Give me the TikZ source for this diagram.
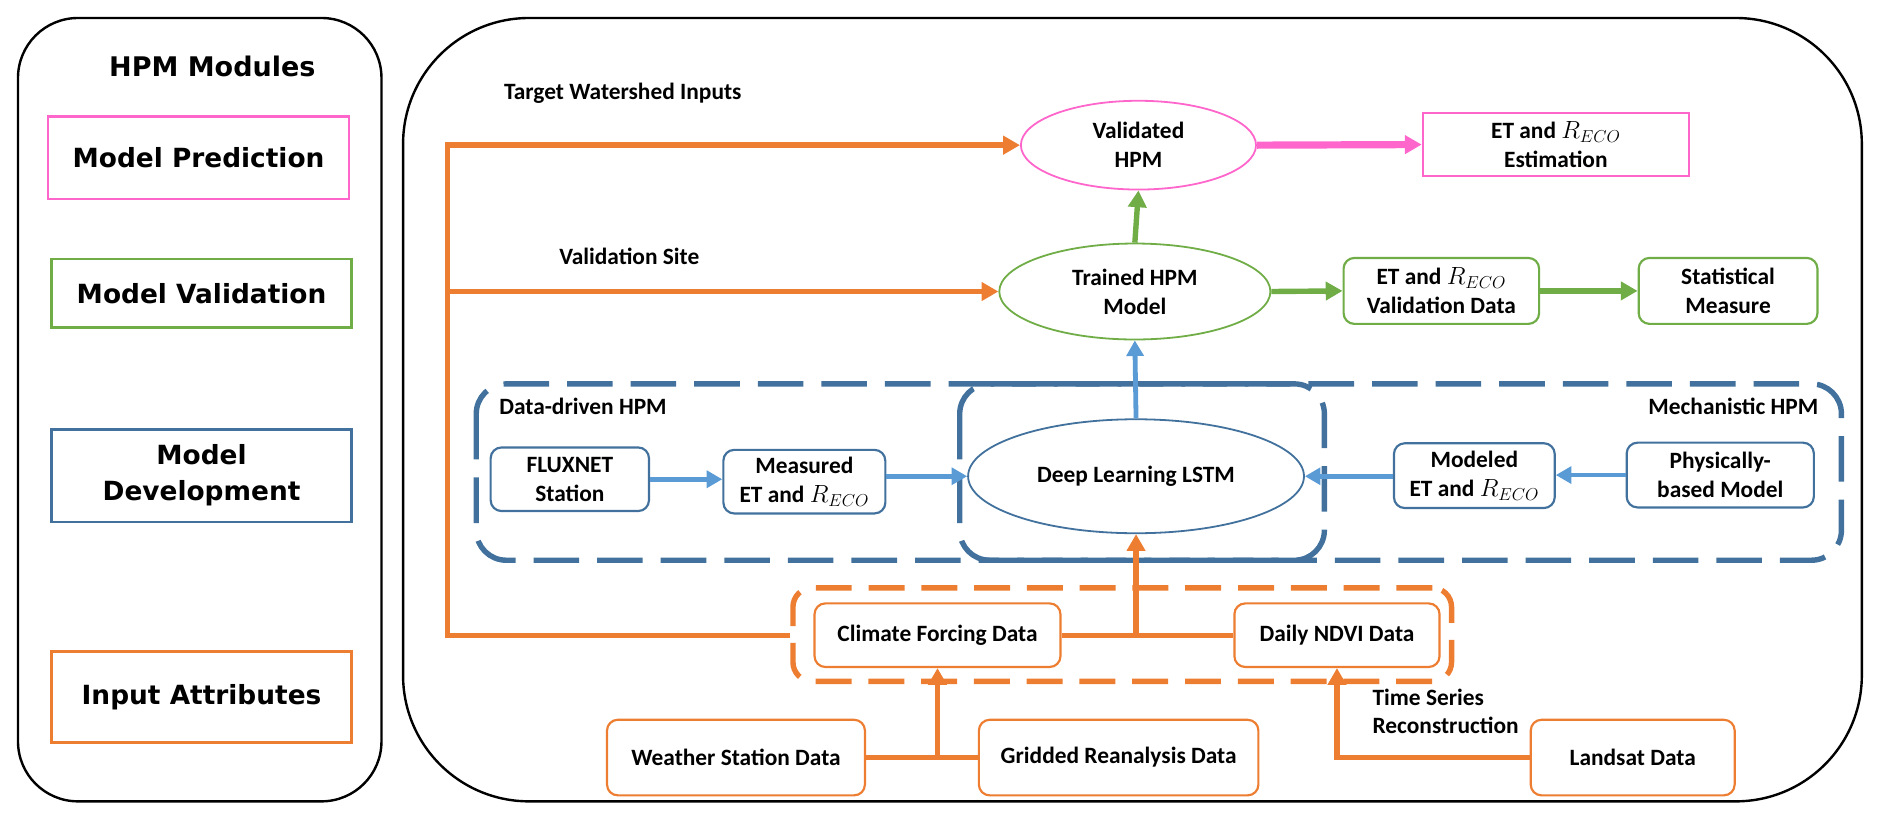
\documentclass[tikz,border=0pt]{standalone}
\usepackage{fontspec}
\setmainfont{Carlito}
\newfontfamily\lpfont{DejaVu Sans}
\usetikzlibrary{arrows.meta,shapes.geometric}
\definecolor{cpink}{HTML}{FF66CC}
\definecolor{cgreen}{HTML}{70AD47}
\definecolor{cblue}{HTML}{41719C}
\definecolor{clblue}{HTML}{5B9BD5}
\definecolor{corange}{HTML}{ED7D31}
\tikzset{
  every node/.style={font=\fontsize{19.5}{24}\selectfont\bfseries, align=center, inner sep=0pt},
  panel/.style={draw=black, line width=2pt},
  lbox/.style={draw, line width=2pt, minimum width=250pt, font=\lpfont\fontsize{22}{30}\selectfont\bfseries},
  rbox/.style={draw, line width=1.8pt, rounded corners=9pt},
  ell/.style={draw, ellipse, line width=1.5pt},
  dbox/.style={line width=4.5pt, rounded corners=25pt, dash pattern=on 38pt off 15pt},
  tip/.style={-{Triangle[length=14pt,width=15pt]}},
  oline/.style={draw=corange, line width=4.5pt, line join=miter},
  oarrow/.style={oline, tip},
  garrow/.style={draw=cgreen, line width=4.5pt, tip},
  parrow/.style={draw=cpink, line width=6pt, tip},
  barrow/.style={draw=clblue, line width=4pt, -{Triangle[length=13pt,width=14pt]}},
  lbl/.style={anchor=west}
}
\begin{document}
\begin{tikzpicture}[x=1pt,y=-1pt]
\useasboundingbox (0,0) rectangle (1568,688);

% left panel
\node[panel, rounded corners=50pt, minimum width=303pt, minimum height=653pt] (lp) at (166.5,341.5) {};
\node[font=\lpfont\fontsize{22.5}{27}\selectfont\bfseries] (title) at (177,55) {HPM Modules};
\node[lbox, draw=cpink, minimum width=251pt, minimum height=69pt] (mp) at (165.5,131.5) {Model Prediction};
\node[lbox, draw=cgreen, minimum height=57pt] (mv) at (168,244.5) {Model Validation};
\node[lbox, draw=cblue, minimum height=77pt] (md) at (168,396.5) {Model\\Development};
\node[lbox, draw=corange, minimum height=76pt] (ia) at (168,581) {Input Attributes};

% main panel
\node[panel, rounded corners=105pt, minimum width=1216pt, minimum height=653pt] (mainp) at (944,341.5) {};

% dashed group boxes
\draw[dbox, draw=cblue] (397,320) rectangle (1104,467);
\draw[dbox, draw=cblue] (800,320) rectangle (1535,467);
\node[draw=corange, line width=4.5pt, rounded corners=16pt, dash pattern=on 30pt off 14pt, minimum width=549pt, minimum height=78pt] (odash) at (935.5,529) {};

% labels
\node[lbl] (twi) at (420,78) {Target Watershed Inputs};
\node[lbl] (vs) at (466,214) {Validation Site};
\node[lbl] (ddh) at (416,339) {Data-driven HPM};
\node[anchor=east] (mech) at (1516,339) {Mechanistic HPM};
\node[anchor=west, align=left] (tsr) at (1144,593) {Time Series\\Reconstruction};

% ellipses
\node[ell, draw=cpink, minimum width=196pt, minimum height=74pt] (vhpm) at (949,121) {Validated\\HPM};
\node[ell, draw=cgreen, minimum width=226pt, minimum height=80pt] (thpm) at (946,243) {Trained HPM\\Model};
\node[ell, draw=cblue, minimum width=280pt, minimum height=95pt] (lstm) at (947,397) {Deep Learning LSTM};

% boxes
\node[draw=cpink, line width=1.8pt, minimum width=222pt, minimum height=53pt] (est) at (1297,120.5) {ET and $R_{ECO}$\\Estimation};
\node[rbox, draw=cgreen, minimum width=163pt, minimum height=55pt] (vdata) at (1201.5,242.5) {ET and $R_{ECO}$\\Validation Data};
\node[rbox, draw=cgreen, minimum width=149pt, minimum height=55pt] (stat) at (1440.5,242.5) {Statistical\\Measure};
\node[rbox, draw=cblue, minimum width=132pt, minimum height=53pt] (flux) at (475,399.5) {FLUXNET\\Station};
\node[rbox, draw=cblue, minimum width=135pt, minimum height=53pt] (meas) at (670.5,401.5) {Measured\\ET and $R_{ECO}$};
\node[rbox, draw=cblue, minimum width=134pt, minimum height=54pt] (modl) at (1229,396.5) {Modeled\\ET and $R_{ECO}$};
\node[rbox, draw=cblue, minimum width=156pt, minimum height=54pt] (phys) at (1434,396) {Physically-\\based Model};
\node[rbox, draw=corange, minimum width=205pt, minimum height=53pt] (cfd) at (781.5,529.5) {Climate Forcing Data};
\node[rbox, draw=corange, minimum width=171pt, minimum height=53pt] (ndvi) at (1114.5,529.5) {Daily NDVI Data};
\node[rbox, draw=corange, minimum width=215pt, minimum height=63pt] (wsd) at (613.5,631.5) {Weather Station Data};
\node[rbox, draw=corange, minimum width=233pt, minimum height=63pt] (grd) at (932.5,631.5) {Gridded Reanalysis Data};
\node[rbox, draw=corange, minimum width=170pt, minimum height=63pt] (lsat) at (1361,631.5) {Landsat Data};

% orange trunk
\coordinate (tl) at (373,121);
\draw[oarrow] (odash.west |- cfd.west) -| (tl) -- (vhpm.west);
\draw[oarrow] (tl |- thpm.west) -- (thpm.west);
\draw[oline] (cfd.east) -- (ndvi.west);
\draw[oarrow] (lstm.south |- cfd.east) -- (lstm.south);
\draw[oline] (wsd.east) -- (grd.west);
\draw[oarrow] (cfd.south |- wsd.east) -- (cfd.south);
\draw[oarrow] (lsat.west) -| (ndvi.south);

% pink / green
\draw[parrow] (vhpm.east) -- (est.west);
\draw[garrow] (thpm.north) -- (vhpm.south);
\draw[garrow] (thpm.east) -- (vdata.west);
\draw[garrow] (vdata.east) -- (stat.west);

% blue
\draw[barrow] (lstm.north) -- (thpm.south);
\draw[barrow] (flux.east) -- (flux.east -| meas.west);
\draw[barrow] (meas.east |- lstm.west) -- (lstm.west);
\draw[barrow] (phys.west) -- (phys.west -| modl.east);
\draw[barrow] (modl.west |- lstm.east) -- (lstm.east);
\end{tikzpicture}
\end{document}
